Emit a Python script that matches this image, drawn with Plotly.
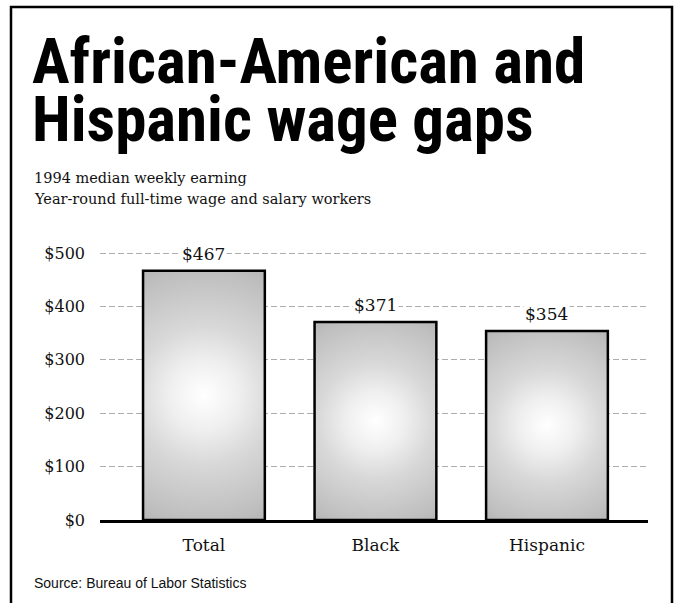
import math
import plotly.graph_objects as go

# Median weekly earnings, 1994
categories = ["Total", "Black", "Hispanic"]
earnings = [467, 371, 354]
y_ticks = [0, 100, 200, 300, 400, 500]

title_lines = ["African-American and", "Hispanic wage gaps"]
subtitle_lines = ["1994 median weekly earning",
                  "Year-round full-time wage and salary workers"]
source_text = "Source: Bureau of Labor Statistics"

# Canvas and plot-area geometry (pixels)
W, H = 680, 603
L, R, T, B = 100, 32, 221, 83
plot_w = W - L - R
plot_h = H - T - B
x_range = [-0.606, 2.589]
y_range = [0, 560]
px_per_x = plot_w / (x_range[1] - x_range[0])
px_per_y = plot_h / (y_range[1] - y_range[0])


def px_x(px):
    return (px - L) / plot_w


def px_y(py):
    return (H - B - py) / plot_h


SERIF = "DejaVu Serif"
TITLE_FONT = ("Roboto Condensed, DejaVu Sans Condensed, Liberation Sans Narrow, "
              "Arial Narrow, Liberation Sans")
bar_width = 0.71
shade = [[0, "#ffffff"], [0.25, "#efefef"], [0.5, "#d8d8d8"],
         [0.9, "#bebebe"], [1, "#b5b5b5"]]

fig = go.Figure()

for i, (cat, val) in enumerate(zip(categories, earnings)):
    x0, x1 = i - bar_width / 2, i + bar_width / 2
    ym = val / 2
    # radius (px) of the round shading: centre to corner of the bar
    half_w_px = bar_width / 2 * px_per_x
    half_h_px = ym * px_per_y
    rad = math.hypot(half_w_px, half_h_px)
    rx, ry = rad / px_per_x, rad / px_per_y
    spur = rx - bar_width / 2
    # closed walk around the bar with zero-area spurs, so that the
    # shading's bounding box is square and the gradient stays round
    xs = [x0, x0 - spur, x0, x0, i, i, i, x1, x1,
          x1 + spur, x1, x1, i, i, i, x0, x0]
    ys = [ym, ym, ym, val, val, ym + ry, val, val, ym,
          ym, ym, 0, 0, ym - ry, 0, 0, ym]
    fig.add_trace(go.Scatter(
        x=xs, y=ys,
        mode="lines",
        fill="toself",
        line=dict(width=0, simplify=False),
        fillgradient=dict(type="radial", colorscale=shade),
        hoverinfo="skip",
        showlegend=False,
        name=cat,
    ))
    fig.add_trace(go.Scatter(
        x=[x0, x1, x1, x0, x0],
        y=[0, 0, val, val, 0],
        mode="lines",
        line=dict(color="black", width=2.5),
        hoverinfo="skip",
        showlegend=False,
        name=cat,
    ))
    fig.add_annotation(
        x=i, y=val, xref="x", yref="y",
        text=f"${val}", showarrow=False,
        yanchor="bottom", yshift=5,
        bgcolor="white", borderpad=1,
        font=dict(family=SERIF, size=17, color="#111"),
    )

# Title
for k, line in enumerate(title_lines):
    fig.add_annotation(
        x=px_x(30), y=px_y(62 + k * 57), xref="paper", yref="paper",
        text=f"<b>{line}</b>", showarrow=False,
        xanchor="left", yanchor="middle",
        font=dict(family=TITLE_FONT, size=63, color="black"),
    )

# Subtitle
for k, line in enumerate(subtitle_lines):
    fig.add_annotation(
        x=px_x(32), y=px_y(178 + k * 21), xref="paper", yref="paper",
        text=line, showarrow=False,
        xanchor="left", yanchor="middle",
        font=dict(family=SERIF, size=14.5, color="#111"),
    )

# Source
fig.add_annotation(
    x=px_x(32), y=px_y(583), xref="paper", yref="paper",
    text=source_text, showarrow=False,
    xanchor="left", yanchor="middle",
    font=dict(family="Liberation Sans", size=14, color="#111"),
)

# Frame around the graphic (open at the bottom edge)
fl, fr, ft, fb = px_x(11), px_x(672), px_y(7), px_y(620)
fig.add_shape(
    type="path", xref="paper", yref="paper",
    path=f"M {fl} {fb} L {fl} {ft} L {fr} {ft} L {fr} {fb}",
    line=dict(color="black", width=2.5),
)

fig.update_layout(
    width=W, height=H,
    margin=dict(l=L, r=R, t=T, b=B),
    paper_bgcolor="white",
    plot_bgcolor="white",
    showlegend=False,
    xaxis=dict(
        range=x_range,
        tickmode="array",
        tickvals=list(range(len(categories))),
        ticktext=categories,
        showgrid=False,
        zeroline=False,
        showline=True,
        linecolor="black",
        linewidth=2.5,
        ticks="",
        ticklabelstandoff=8,
        tickfont=dict(family=SERIF, size=17, color="#111"),
        fixedrange=True,
    ),
    yaxis=dict(
        range=y_range,
        tickmode="array",
        tickvals=y_ticks,
        ticktext=[f"${v}" for v in y_ticks],
        showgrid=True,
        gridcolor="#adadad",
        gridwidth=1,
        griddash="6px,3px",
        zeroline=False,
        showline=False,
        ticks="",
        ticklabelstandoff=14,
        tickfont=dict(family=SERIF, size=16, color="#111"),
        fixedrange=True,
    ),
)

fig.write_html("out.html")
